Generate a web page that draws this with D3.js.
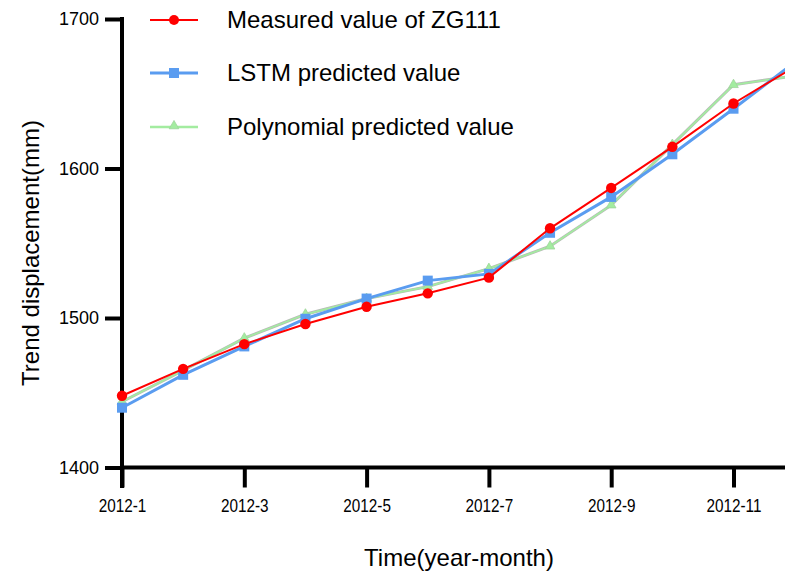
<!DOCTYPE html>
<html>
<head>
<meta charset="utf-8">
<script src="https://cdn.jsdelivr.net/npm/d3@7"></script>
<style>
  html, body { margin: 0; padding: 0; background: #fff; }
  svg { display: block; }
</style>
</head>
<body>
<svg id="chart" width="785" height="576"></svg>
<script>
const months = [1, 2, 3, 4, 5, 6, 7, 8, 9, 10, 11, 12];
const xTickValues = [1, 3, 5, 7, 9, 11];
const xTickLabels = ["2012-1", "2012-3", "2012-5", "2012-7", "2012-9", "2012-11"];
const yTickValues = [1400, 1500, 1600, 1700];
const measured = [1448, 1466, 1482.5, 1496, 1507.5, 1516.5, 1527, 1560, 1587, 1614.5, 1643.5, 1668];
const lstm = [1440, 1462, 1481, 1499.5, 1513, 1525, 1529.5, 1557, 1581, 1609.5, 1640, 1671];
const poly = [1444, 1465, 1486.5, 1502.5, 1513, 1521, 1533, 1548, 1575.5, 1616, 1656, 1662];
const seriesNames = ["Measured value of ZG111", "LSTM predicted value", "Polynomial predicted value"];

const svg = d3.select("#chart");
const x = d3.scaleLinear().domain([1, 12]).range([122, 122 + 11 * 61.15]);
const y = d3.scaleLinear().domain([1400, 1700]).range([467.5, 19]);
const font = "'Liberation Sans', Arial, sans-serif";

// Y axis
const yAxis = svg.append("g").attr("transform", `translate(${x(1)},0)`)
  .call(d3.axisLeft(y).tickValues(yTickValues).tickFormat(d3.format("d")).tickSize(17).tickSizeOuter(0).tickPadding(6));
yAxis.select(".domain").remove();
yAxis.selectAll(".tick line").attr("stroke", "#000").attr("stroke-width", 4);
yAxis.selectAll(".tick text").attr("font-family", font).attr("font-size", 18).attr("fill", "#000");
svg.append("line").attr("x1", x(1)).attr("x2", x(1)).attr("y1", y(1700) - 2).attr("y2", 488)
  .attr("stroke", "#000").attr("stroke-width", 4);

// X axis
const xAxis = svg.append("g").attr("transform", `translate(0,${y(1400)})`)
  .call(d3.axisBottom(x).tickValues(xTickValues).tickFormat((d, i) => xTickLabels[i]).tickSize(20).tickSizeOuter(0).tickPadding(12));
xAxis.select(".domain").remove();
xAxis.selectAll(".tick line").attr("stroke", "#000").attr("stroke-width", 4);
xAxis.selectAll(".tick text").attr("font-family", font).attr("font-size", 18).attr("fill", "#000")
  .attr("transform", "scale(0.85,1)");
svg.append("line").attr("x1", x(1) - 2).attr("x2", 800).attr("y1", y(1400)).attr("y2", y(1400))
  .attr("stroke", "#000").attr("stroke-width", 4);

// Axis titles
svg.append("text").attr("x", 459).attr("y", 566).attr("text-anchor", "middle")
  .attr("font-family", font).attr("font-size", 24).text("Time(year-month)");
svg.append("text").attr("transform", "translate(39,253) rotate(-90)").attr("text-anchor", "middle")
  .attr("font-family", font).attr("font-size", 24).text("Trend displacement(mm)");

const line = d3.line().x((d, i) => x(months[i])).y(d => y(d));

// Polynomial (green)
svg.append("path").datum(poly).attr("d", line).attr("fill", "none")
  .attr("stroke", "#b8b8b8").attr("stroke-width", 3);
svg.append("path").datum(poly).attr("d", line).attr("fill", "none")
  .attr("stroke", "#a3eca0").attr("stroke-width", 1.8);
const tri = d3.symbol().type(d3.symbolTriangle).size(40);
svg.selectAll(".tri").data(poly).enter().append("path")
  .attr("d", tri).attr("transform", (d, i) => `translate(${x(months[i])},${y(d)})`)
  .attr("fill", "#a3eca0").attr("stroke", "#9ed49b").attr("stroke-width", 0.8);

// LSTM (blue)
svg.append("path").datum(lstm).attr("d", line).attr("fill", "none")
  .attr("stroke", "#5a9cf0").attr("stroke-width", 3);
svg.selectAll(".sq").data(lstm).enter().append("rect")
  .attr("x", (d, i) => x(months[i]) - 5).attr("y", d => y(d) - 5)
  .attr("width", 10).attr("height", 10).attr("fill", "#5a9cf0");

// Measured (red)
svg.append("path").datum(measured).attr("d", line).attr("fill", "none")
  .attr("stroke", "#ff0000").attr("stroke-width", 2);
svg.selectAll(".dot").data(measured).enter().append("circle")
  .attr("cx", (d, i) => x(months[i])).attr("cy", d => y(d)).attr("r", 5.2).attr("fill", "#ff0000");

// Legend
const legY = [20, 73, 127];
const lg = svg.append("g");
lg.append("line").attr("x1", 150).attr("x2", 198).attr("y1", legY[0]).attr("y2", legY[0]).attr("stroke", "#ff0000").attr("stroke-width", 2);
lg.append("circle").attr("cx", 174).attr("cy", legY[0]).attr("r", 5).attr("fill", "#ff0000");
lg.append("line").attr("x1", 150).attr("x2", 198).attr("y1", legY[1]).attr("y2", legY[1]).attr("stroke", "#5a9cf0").attr("stroke-width", 3);
lg.append("rect").attr("x", 169).attr("y", legY[1] - 5).attr("width", 10).attr("height", 10).attr("fill", "#5a9cf0");
lg.append("line").attr("x1", 150).attr("x2", 198).attr("y1", legY[2]).attr("y2", legY[2]).attr("stroke", "#a3eca0").attr("stroke-width", 2.5);
lg.append("path").attr("d", tri).attr("transform", `translate(174,${legY[2] - 1})`).attr("fill", "#a3eca0").attr("stroke", "#9ed49b").attr("stroke-width", 0.8);
seriesNames.forEach((n, i) => {
  lg.append("text").attr("x", 227).attr("y", legY[i] + 8).attr("font-family", font)
    .attr("font-size", 24).attr("fill", "#000").text(n);
});
</script>
</body>
</html>
